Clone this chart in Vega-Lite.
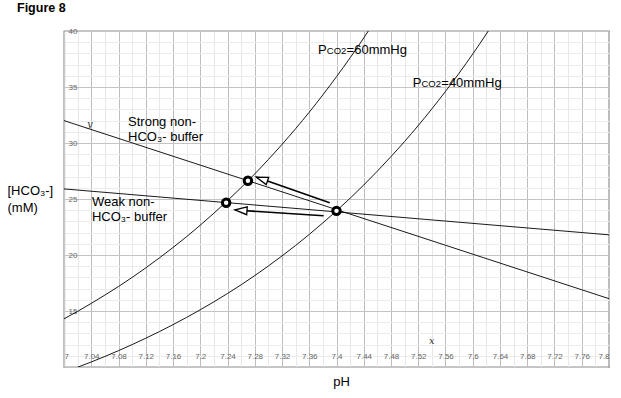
{
  "$schema": "https://vega.github.io/schema/vega-lite/v6.json",
  "width": 545,
  "height": 336,
  "autosize": {"type": "none"},
  "padding": {"left": 64, "top": 31, "right": 12, "bottom": 31},
  "background": "white",
  "title": {"text": "Figure 8", "anchor": "start", "frame": "group", "fontSize": 12.5, "fontWeight": "bold", "font": "Liberation Sans", "color": "black", "baseline": "alphabetic", "offset": 3, "dx": -47},
  "config": {"view": {"stroke": "#222", "strokeWidth": 1.2}, "font": "Liberation Sans"},
  "datasets": {
    "curves": [
      {"pH": 7.00, "hco3": 9.53, "pco2": "40"}, {"pH": 7.02, "hco3": 9.98, "pco2": "40"}, {"pH": 7.04, "hco3": 10.45, "pco2": "40"}, {"pH": 7.06, "hco3": 10.94, "pco2": "40"}, {"pH": 7.08, "hco3": 11.46, "pco2": "40"}, {"pH": 7.10, "hco3": 12.00, "pco2": "40"}, {"pH": 7.12, "hco3": 12.57, "pco2": "40"}, {"pH": 7.14, "hco3": 13.16, "pco2": "40"}, {"pH": 7.16, "hco3": 13.78, "pco2": "40"}, {"pH": 7.18, "hco3": 14.43, "pco2": "40"}, {"pH": 7.20, "hco3": 15.11, "pco2": "40"}, {"pH": 7.22, "hco3": 15.82, "pco2": "40"}, {"pH": 7.24, "hco3": 16.56, "pco2": "40"}, {"pH": 7.26, "hco3": 17.34, "pco2": "40"}, {"pH": 7.28, "hco3": 18.16, "pco2": "40"}, {"pH": 7.30, "hco3": 19.02, "pco2": "40"}, {"pH": 7.32, "hco3": 19.92, "pco2": "40"}, {"pH": 7.34, "hco3": 20.85, "pco2": "40"}, {"pH": 7.36, "hco3": 21.84, "pco2": "40"}, {"pH": 7.38, "hco3": 22.87, "pco2": "40"}, {"pH": 7.40, "hco3": 23.94, "pco2": "40"}, {"pH": 7.42, "hco3": 25.07, "pco2": "40"}, {"pH": 7.44, "hco3": 26.25, "pco2": "40"}, {"pH": 7.46, "hco3": 27.49, "pco2": "40"}, {"pH": 7.48, "hco3": 28.79, "pco2": "40"}, {"pH": 7.50, "hco3": 30.14, "pco2": "40"}, {"pH": 7.52, "hco3": 31.56, "pco2": "40"}, {"pH": 7.54, "hco3": 33.05, "pco2": "40"}, {"pH": 7.56, "hco3": 34.61, "pco2": "40"}, {"pH": 7.58, "hco3": 36.24, "pco2": "40"}, {"pH": 7.60, "hco3": 37.95, "pco2": "40"}, {"pH": 7.62, "hco3": 39.74, "pco2": "40"}, {"pH": 7.64, "hco3": 41.61, "pco2": "40"},
      {"pH": 7.00, "hco3": 14.30, "pco2": "60"}, {"pH": 7.02, "hco3": 14.97, "pco2": "60"}, {"pH": 7.04, "hco3": 15.68, "pco2": "60"}, {"pH": 7.06, "hco3": 16.42, "pco2": "60"}, {"pH": 7.08, "hco3": 17.19, "pco2": "60"}, {"pH": 7.10, "hco3": 18.00, "pco2": "60"}, {"pH": 7.12, "hco3": 18.85, "pco2": "60"}, {"pH": 7.14, "hco3": 19.74, "pco2": "60"}, {"pH": 7.16, "hco3": 20.67, "pco2": "60"}, {"pH": 7.18, "hco3": 21.64, "pco2": "60"}, {"pH": 7.20, "hco3": 22.66, "pco2": "60"}, {"pH": 7.22, "hco3": 23.73, "pco2": "60"}, {"pH": 7.24, "hco3": 24.85, "pco2": "60"}, {"pH": 7.26, "hco3": 26.02, "pco2": "60"}, {"pH": 7.28, "hco3": 27.24, "pco2": "60"}, {"pH": 7.30, "hco3": 28.53, "pco2": "60"}, {"pH": 7.32, "hco3": 29.87, "pco2": "60"}, {"pH": 7.34, "hco3": 31.28, "pco2": "60"}, {"pH": 7.36, "hco3": 32.75, "pco2": "60"}, {"pH": 7.38, "hco3": 34.30, "pco2": "60"}, {"pH": 7.40, "hco3": 35.92, "pco2": "60"}, {"pH": 7.42, "hco3": 37.61, "pco2": "60"}, {"pH": 7.44, "hco3": 39.38, "pco2": "60"}, {"pH": 7.46, "hco3": 41.24, "pco2": "60"}
    ],
    "buffers": [
      {"pH": 7.0, "hco3": 32.0, "buffer": "strong"}, {"pH": 7.8, "hco3": 16.1, "buffer": "strong"},
      {"pH": 7.0, "hco3": 25.9, "buffer": "weak"}, {"pH": 7.8, "hco3": 21.8, "buffer": "weak"}
    ],
    "arrows": [
      {"arrow": "strong", "pH": 7.390, "hco3": 24.67, "pH2": 7.282, "hco32": 26.96},
      {"arrow": "weak", "pH": 7.381, "hco3": 23.51, "pH2": 7.251, "hco32": 24.02}
    ],
    "points": [
      {"pH": 7.40, "hco3": 23.94}, {"pH": 7.27, "hco3": 26.63}, {"pH": 7.238, "hco3": 24.66}
    ],
    "labels": [
      {"pH": 7.094, "hco3": 31.875, "text": "Strong non-"},
      {"pH": 7.094, "hco3": 30.58, "text": "HCO₃- buffer"},
      {"pH": 7.041, "hco3": 24.73, "text": "Weak non-"},
      {"pH": 7.041, "hco3": 23.39, "text": "HCO₃- buffer"}
    ],
    "pco2labels": [
      {"pH": 7.373, "hco3": 37.98, "sub": "CO2", "rest": "=60mmHg"},
      {"pH": 7.512, "hco3": 35.04, "sub": "CO2", "rest": "=40mmHg"}
    ],
    "letters": [
      {"pH": 7.540, "hco3": 12.35, "text": "x"},
      {"pH": 7.038, "hco3": 31.7, "text": "y"}
    ]
  },
  "layer": [
    {
      "data": {"name": "curves"},
      "mark": {"type": "line", "color": "black", "strokeWidth": 0.9, "clip": true, "interpolate": "monotone"},
      "encoding": {
        "x": {"field": "pH", "type": "quantitative", "scale": {"domain": [7, 7.8], "nice": false, "zero": false},
          "axis": {"title": "pH", "titleFontSize": 13, "titleFontWeight": "normal", "titleColor": "black", "titleBaseline": "middle", "titleY": 14, "titleX": 277,
            "tickCount": 200,
            "values": [7,7.02,7.04,7.06,7.08,7.1,7.12,7.14,7.16,7.18,7.2,7.22,7.24,7.26,7.28,7.3,7.32,7.34,7.36,7.38,7.4,7.42,7.44,7.46,7.48,7.5,7.52,7.54,7.56,7.58,7.6,7.62,7.64,7.66,7.68,7.7,7.72,7.74,7.76,7.78,7.8],
            "labelExpr": "round(datum.value*100)%4==0 ? format(datum.value, '~g') : ''",
            "labelOverlap": false, "labelFlush": true, "labelPadding": -15, "labelBaseline": "top", "labelFontSize": 8, "labelColor": "#666",
            "ticks": false, "domain": false, "grid": true,
            "gridColor": {"condition": {"test": "round(datum.value*100)%4==0", "value": "#bdbdbd"}, "value": "#e8e8e8"}, "gridWidth": 1}},
        "y": {"field": "hco3", "type": "quantitative", "scale": {"domain": [10, 40], "nice": false, "zero": false},
          "axis": {"title": ["[HCO₃-]", "(mM)"], "titleAngle": 0, "titleAlign": "left", "titleBaseline": "top", "titleX": -57, "titleY": 153, "titleFontSize": 13, "titleFontWeight": "normal", "titleColor": "black", "titleLineHeight": 17,
            "tickCount": 200,
            "values": [10,11,12,13,14,15,16,17,18,19,20,21,22,23,24,25,26,27,28,29,30,31,32,33,34,35,36,37,38,39,40],
            "labelExpr": "datum.value%5==0 && datum.value>10 ? format(datum.value, '~g') : ''",
            "labelOverlap": false, "labelFlush": false, "labelAlign": "left", "labelBaseline": "middle", "labelPadding": -4, "labelFontSize": 8, "labelColor": "#666",
            "ticks": false, "domain": true, "domainColor": "#c8c8c8", "domainWidth": 1.5, "grid": true,
            "gridColor": {"condition": {"test": "datum.value%5==0", "value": "#c4c4c4"}, "value": "#ececec"}, "gridWidth": 1}},
        "detail": {"field": "pco2"}
      }
    },
    {
      "data": {"name": "buffers"},
      "mark": {"type": "line", "color": "black", "strokeWidth": 0.9, "clip": true},
      "encoding": {
        "x": {"field": "pH", "type": "quantitative"},
        "y": {"field": "hco3", "type": "quantitative"},
        "detail": {"field": "buffer"}
      }
    },
    {
      "data": {"name": "arrows"},
      "mark": {"type": "rule", "color": "black", "strokeWidth": 1.6},
      "encoding": {
        "x": {"field": "pH", "type": "quantitative"},
        "y": {"field": "hco3", "type": "quantitative"},
        "x2": {"field": "pH2"},
        "y2": {"field": "hco32"}
      }
    },
    {
      "data": {"name": "arrows"},
      "transform": [{"filter": "datum.arrow == 'strong'"}],
      "mark": {"type": "point", "shape": "M0,0L2,-0.65L2,0.65Z", "size": 144, "angle": 19, "filled": true, "fill": "white", "stroke": "black", "strokeWidth": 1.3, "opacity": 1},
      "encoding": {
        "x": {"field": "pH2", "type": "quantitative"},
        "y": {"field": "hco32", "type": "quantitative"}
      }
    },
    {
      "data": {"name": "arrows"},
      "transform": [{"filter": "datum.arrow == 'weak'"}],
      "mark": {"type": "point", "shape": "M0,0L2,-0.65L2,0.65Z", "size": 144, "angle": 4, "filled": true, "fill": "white", "stroke": "black", "strokeWidth": 1.3, "opacity": 1},
      "encoding": {
        "x": {"field": "pH2", "type": "quantitative"},
        "y": {"field": "hco32", "type": "quantitative"}
      }
    },
    {
      "data": {"name": "points"},
      "mark": {"type": "point", "shape": "circle", "size": 56, "filled": true, "fill": "white", "stroke": "black", "strokeWidth": 3, "opacity": 1},
      "encoding": {
        "x": {"field": "pH", "type": "quantitative"},
        "y": {"field": "hco3", "type": "quantitative"}
      }
    },
    {
      "data": {"name": "labels"},
      "mark": {"type": "text", "align": "left", "baseline": "middle", "fontSize": 13, "font": "Liberation Sans", "color": "black"},
      "encoding": {
        "x": {"field": "pH", "type": "quantitative"},
        "y": {"field": "hco3", "type": "quantitative"},
        "text": {"field": "text"}
      }
    },
    {
      "data": {"name": "pco2labels"},
      "mark": {"type": "text", "align": "left", "baseline": "alphabetic", "fontSize": 13, "font": "Liberation Sans", "color": "black"},
      "encoding": {
        "x": {"field": "pH", "type": "quantitative"},
        "y": {"field": "hco3", "type": "quantitative"},
        "text": {"value": "P"}
      }
    },
    {
      "data": {"name": "pco2labels"},
      "mark": {"type": "text", "align": "left", "baseline": "alphabetic", "fontSize": 9.5, "font": "Liberation Sans", "color": "black", "dx": 8.7},
      "encoding": {
        "x": {"field": "pH", "type": "quantitative"},
        "y": {"field": "hco3", "type": "quantitative"},
        "text": {"field": "sub"}
      }
    },
    {
      "data": {"name": "pco2labels"},
      "mark": {"type": "text", "align": "left", "baseline": "alphabetic", "fontSize": 13, "font": "Liberation Sans", "color": "black", "dx": 28.5},
      "encoding": {
        "x": {"field": "pH", "type": "quantitative"},
        "y": {"field": "hco3", "type": "quantitative"},
        "text": {"field": "rest"}
      }
    },
    {
      "data": {"name": "letters"},
      "mark": {"type": "text", "align": "center", "baseline": "middle", "fontSize": 10, "font": "DejaVu Serif", "fontStyle": "italic", "color": "#333"},
      "encoding": {
        "x": {"field": "pH", "type": "quantitative"},
        "y": {"field": "hco3", "type": "quantitative"},
        "text": {"field": "text"}
      }
    }
  ]
}
